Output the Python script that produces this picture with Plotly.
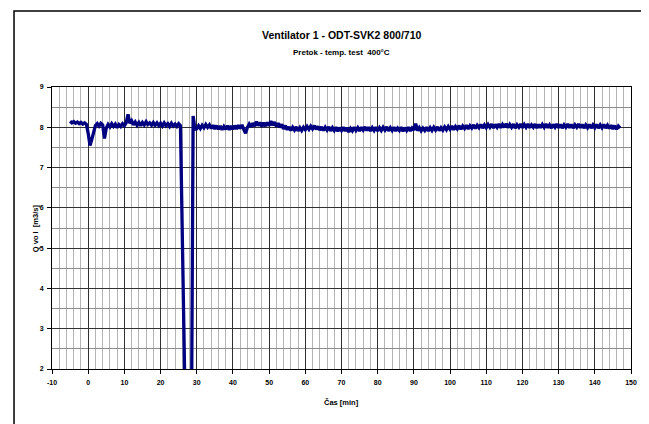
import numpy as np
import plotly.graph_objects as go

NAVY = '#000080'
GRID_MAJOR = '#303030'
GRID_MINOR = '#b4b4b4'
FONT = "Liberation Sans, Arial, sans-serif"

TITLE = "Ventilator 1 - ODT-SVK2 800/710"
SUBTITLE = "Pretok - temp. test  400°C"
X_LABEL = "Čas [min]"
Y_LABEL = "Q vo l  [m3/s]"

X_TICKS = [-10, 0, 10, 20, 30, 40, 50, 60, 70, 80, 90, 100, 110, 120, 130, 140, 150]
X_TICK_TEXT = ["-10", "0", "10", "20", "30", "40", "50", "60", "70", "80",
               "90", "100", "110", "120", "130", "140", "150"]

# sampling grid of the logger (minutes)
T_START = -5.0
T_STEP = 0.5

# Qvol readings [m3/s], one row = 10 min
q_pre = [8.15, 8.11, 8.14, 8.10, 8.13, 8.09, 8.12, 8.08, 8.11, 8.07]
q_00 = [7.85, 7.55, 7.70, 7.88, 8.04, 8.09, 8.03, 8.10, 8.06, 7.72,
        7.98, 8.07, 8.01, 8.09, 8.02, 8.08, 7.99, 8.07, 8.02, 8.09]
q_10 = [8.04, 8.11, 8.32, 8.10, 8.16, 8.06, 8.13, 8.05, 8.12, 8.04,
        8.12, 8.06, 8.14, 8.07, 8.11, 8.05, 8.12, 8.05, 8.11, 8.04]
q_20 = [8.10, 8.03, 8.11, 8.04, 8.09, 8.02, 8.10, 8.03, 8.08, 8.02,
        8.09, 8.04, 5.20, 2.75, 0.00, 0.00, 0.00, 0.00, 8.28, 7.95]
q_30 = [7.96, 8.04, 7.97, 8.05, 7.99, 8.07, 8.00, 8.06, 7.97, 8.05,
        7.96, 8.04, 7.95, 8.03, 7.94, 8.02, 7.95, 8.04, 7.94, 8.03]
q_40 = [7.95, 8.04, 7.96, 8.05, 7.97, 8.06, 7.94, 7.85, 8.00, 8.08,
        8.01, 8.10, 8.03, 8.14, 8.04, 8.12, 8.02, 8.11, 8.03, 8.12]
q_50 = [8.04, 8.15, 8.05, 8.13, 8.02, 8.10, 8.00, 8.07, 7.96, 8.04,
        7.94, 8.01, 7.92, 8.00, 7.93, 8.01, 7.91, 7.99, 7.92, 8.00]
q_60 = [7.94, 8.02, 7.95, 8.03, 7.96, 8.04, 7.95, 8.02, 7.93, 8.01,
        7.92, 8.00, 7.93, 8.01, 7.91, 7.99, 7.92, 8.00, 7.90, 7.99]
q_70 = [7.92, 8.00, 7.91, 7.99, 7.88, 7.97, 7.91, 8.00, 7.92, 7.99,
        7.91, 8.00, 7.93, 8.01, 7.92, 8.00, 7.91, 7.99, 7.92, 8.00]
q_80 = [7.91, 7.99, 7.92, 8.00, 7.93, 8.01, 7.91, 7.99, 7.92, 8.00,
        7.91, 7.98, 7.92, 8.00, 7.90, 7.99, 7.92, 8.00, 7.91, 7.98]
q_90 = [7.93, 8.09, 7.92, 7.99, 7.91, 7.98, 7.92, 8.00, 7.91, 7.99,
        7.92, 8.00, 7.93, 8.01, 7.92, 7.99, 7.93, 8.01, 7.94, 8.02]
q_100 = [7.95, 8.03, 7.94, 8.02, 7.96, 8.04, 7.95, 8.03, 7.97, 8.05,
         7.96, 8.04, 7.98, 8.06, 7.97, 8.05, 7.99, 8.07, 7.98, 8.06]
q_110 = [7.99, 8.07, 8.00, 8.08, 7.98, 8.07, 8.00, 8.08, 7.99, 8.07,
         8.00, 8.09, 7.99, 8.07, 8.00, 8.08, 7.98, 8.06, 8.00, 8.08]
q_120 = [7.99, 8.07, 8.00, 8.08, 7.99, 8.06, 8.00, 8.08, 7.98, 8.07,
         7.99, 8.07, 8.00, 8.08, 7.99, 8.06, 7.98, 8.07, 8.00, 8.08]
q_130 = [7.99, 8.07, 7.98, 8.06, 8.00, 8.08, 7.99, 8.07, 7.98, 8.06,
         8.00, 8.08, 7.99, 8.07, 7.98, 8.06, 7.99, 8.07, 7.98, 8.06]
q_140 = [7.99, 8.07, 7.98, 8.06, 7.99, 8.07, 7.98, 8.05, 7.97, 8.05,
         7.96, 8.04, 7.95, 8.03, 7.98]

q_vol = (q_pre + q_00 + q_10 + q_20 + q_30 + q_40 + q_50 + q_60 + q_70
         + q_80 + q_90 + q_100 + q_110 + q_120 + q_130 + q_140)
t_min = T_START + T_STEP * np.arange(len(q_vol))

fig = go.Figure()
fig.add_trace(go.Scatter(
    x=t_min, y=q_vol, mode='lines',
    line=dict(color=NAVY, width=3.3),
    showlegend=False,
))

axis_font = dict(family=FONT, size=7, color='black', weight='bold')

fig.update_xaxes(
    range=[-10, 150], tickmode='array', tickvals=X_TICKS, ticktext=X_TICK_TEXT,
    showline=True, linecolor='black', linewidth=1, mirror=True,
    ticks='outside', ticklen=4, tickcolor='black', ticklabelstandoff=3,
    showgrid=True, gridcolor=GRID_MAJOR, gridwidth=1,
    minor=dict(dtick=2, tick0=0, showgrid=True, gridcolor=GRID_MINOR, gridwidth=1),
    zeroline=False, tickfont=axis_font,
)
fig.update_yaxes(
    range=[2, 9], dtick=1,
    showline=True, linecolor='black', linewidth=1, mirror=True,
    ticks='outside', ticklen=4, tickcolor='black', ticklabelstandoff=2,
    showgrid=True, gridcolor=GRID_MAJOR, gridwidth=1,
    minor=dict(dtick=0.5, showgrid=True, gridcolor='#8c8c8c', gridwidth=1),
    zeroline=False, tickfont=axis_font,
)

# page body adds an 8px offset, so the figure is 8px smaller and shifted up/left
fig.update_layout(
    width=641, height=416,
    margin=dict(l=44, r=18, t=79, b=55),
    paper_bgcolor='white', plot_bgcolor='white',
    font=dict(family=FONT, color='black'),
    annotations=[
        dict(text=TITLE, x=0.5, y=1.184, xref='paper', yref='paper',
             showarrow=False, yanchor='middle',
             font=dict(family=FONT, size=10.5, color='black', weight='bold')),
        dict(text=SUBTITLE, x=0.5, y=1.124, xref='paper', yref='paper',
             showarrow=False, yanchor='middle',
             font=dict(family=FONT, size=8, color='black', weight='bold')),
        dict(text=X_LABEL, x=0.5, y=-0.12, xref='paper', yref='paper',
             showarrow=False, yanchor='middle',
             font=dict(family=FONT, size=7.5, color='black', weight='bold')),
        dict(text=Y_LABEL, x=-0.029, y=0.5, xref='paper', yref='paper',
             showarrow=False, textangle=-90, xanchor='center', yanchor='middle',
             font=dict(family=FONT, size=7.5, color='black', weight='bold')),
    ],
    shapes=[
        # chart-area frame
        dict(type='rect', xref='paper', yref='paper',
             x0=-0.0656, x1=1.0242, y0=-0.3, y1=1.2695,
             line=dict(color='black', width=1.5), layer='below'),
    ],
)

fig.write_html("out.html")
